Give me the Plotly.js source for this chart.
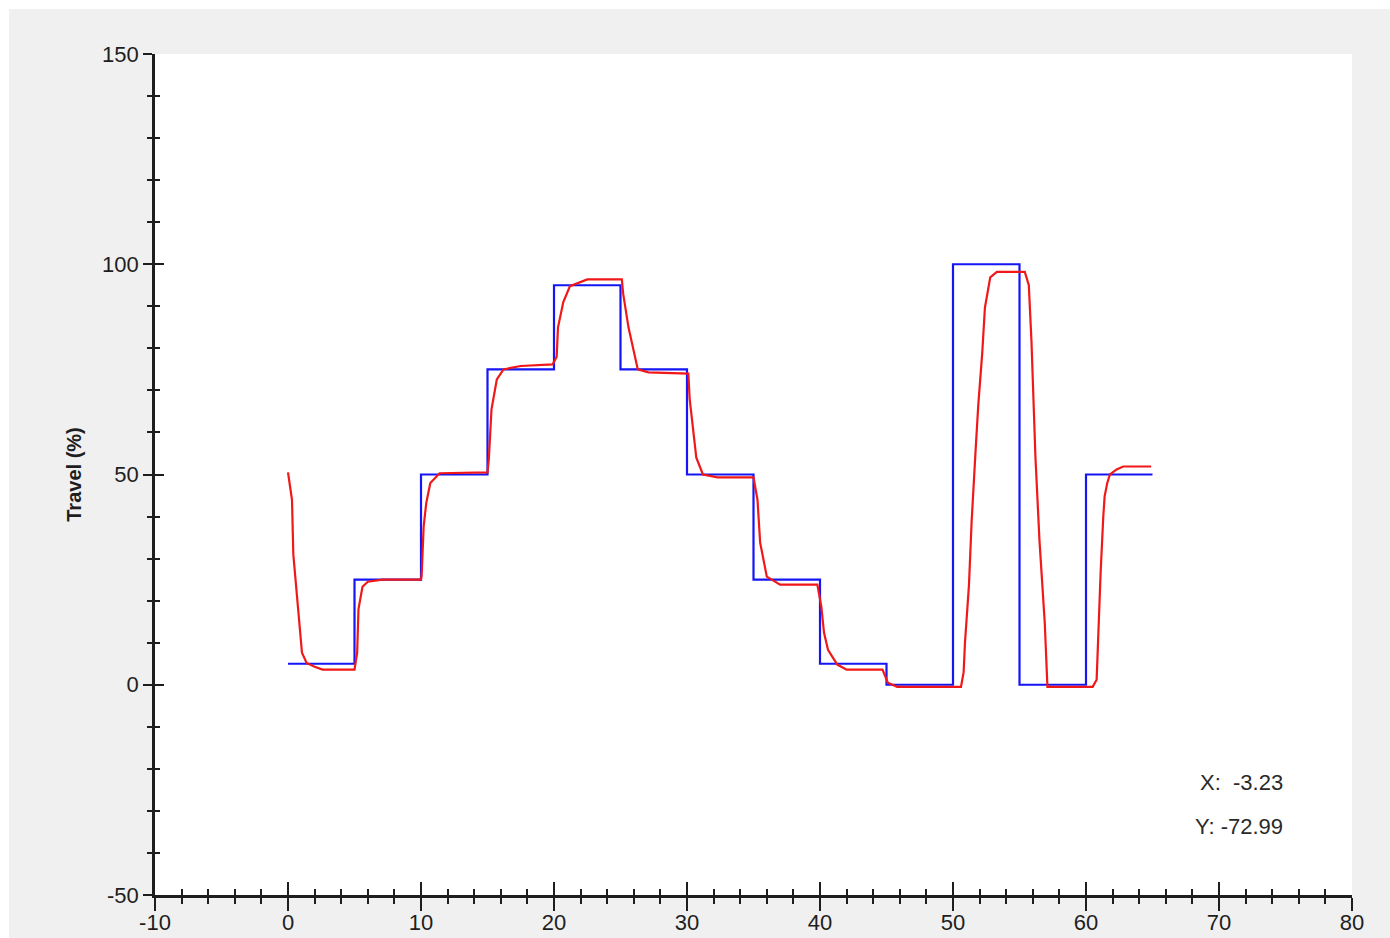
<!DOCTYPE html>
<html>
<head>
<meta charset="utf-8">
<script src="https://cdn.plot.ly/plotly-3.0.1.min.js"></script>
<style>
  html, body { margin: 0; padding: 0; background: #ffffff; }
  #chart { position: absolute; left: 9px; top: 9px; width: 1381px; height: 929px; }
</style>
</head>
<body>
<div id="chart"></div>
<script>
// Setpoint (blue step signal): value held from each time until the next one
const setpointTime = [0, 5, 10, 15, 20, 25, 30, 35, 40, 45, 50, 55, 60, 65];
const setpointTravel = [5, 25, 50, 75, 95, 75, 50, 25, 5, 0, 100, 0, 50, 50];

// Measured travel (red response)
const responseTime = [0, 0.3, 0.4, 0.7, 1.05, 1.4, 2.0, 2.6, 5.0, 5.2, 5.3, 5.6, 6.0, 7.1, 10.0,
  10.05, 10.2, 10.4, 10.7, 11.4, 15.0, 15.1, 15.3, 15.7, 16.2, 17.5, 19.9,
  20.2, 20.3, 20.7, 21.2, 22.5, 25.1, 25.2, 25.6, 26.3, 27.1, 30.1,
  30.2, 30.7, 31.2, 32.3, 35.0, 35.3, 35.5, 36.0, 37.0, 39.8,
  40.1, 40.3, 40.6, 41.3, 42.0, 44.7, 45.1, 45.8, 50.6,
  50.8, 50.9, 51.2, 51.4, 51.7, 51.9, 52.2, 52.4, 52.8, 53.3, 55.4,
  55.7, 55.9, 56.2, 56.5, 56.9, 57.1, 60.5,
  60.8, 60.95, 61.1, 61.3, 61.4, 61.6, 61.8, 62.3, 62.8, 64.9];
const responseTravel = [50.5, 44, 31, 19.5, 7.6, 5.2, 4.3, 3.6, 3.6, 7.6, 18, 23.3, 24.5, 25, 25,
  26, 37.7, 43.3, 48, 50.3, 50.5, 53.6, 65.5, 72.6, 75, 75.8, 76.2,
  78, 85, 91, 94.8, 96.4, 96.4, 93, 85, 75, 74.3, 74,
  68, 54, 50, 49.3, 49.3, 44, 33.8, 25.7, 23.8, 23.8,
  18.6, 12.4, 8.3, 4.8, 3.6, 3.6, 0.5, -0.5, -0.5,
  3, 10, 23.7, 38.8, 55.8, 66.5, 79, 89.7, 96.9, 98.2, 98.2,
  95, 81.7, 54, 34.4, 14.7, -0.5, -0.5,
  1.2, 14.8, 26.7, 40, 44.8, 48, 50, 51.2, 51.9, 51.9];

const xTickValues = [-10, 0, 10, 20, 30, 40, 50, 60, 70, 80];
const yTickValues = [-50, 0, 50, 100, 150];
const yAxisLabel = "Travel (%)";
const readoutLines = ["X:  -3.23", "Y: -72.99"];

const xRange = [-10, 80];
const yRange = [-50, 150];
const axisColor = "#1e1e1e";
const fontFamily = "Liberation Sans, Arial, sans-serif";
const labelFont = { family: fontFamily, size: 22, color: "#1e1e1e" };

const traces = [
  {
    x: setpointTime, y: setpointTravel, type: "scatter", mode: "lines",
    line: { color: "#1515f5", width: 2.2, shape: "hv" },
    name: "Setpoint", hoverinfo: "x+y"
  },
  {
    x: responseTime, y: responseTravel, type: "scatter", mode: "lines",
    line: { color: "#f01818", width: 2.2 },
    name: "Travel", hoverinfo: "x+y"
  },
  {
    // empty trace so that the overlay axes (inner half of the ticks) are drawn
    x: [], y: [], type: "scatter", mode: "lines", xaxis: "x2", yaxis: "y2",
    showlegend: false, hoverinfo: "skip"
  }
];

const tickStyle = { tickwidth: 2.4, tickcolor: axisColor };

const layout = {
  width: 1381, height: 929,
  paper_bgcolor: "#f0f0f0",
  plot_bgcolor: "#ffffff",
  showlegend: false,
  margin: { l: 146, r: 38, t: 45, b: 43 },
  font: labelFont,
  xaxis: Object.assign({
    range: xRange, tickvals: xTickValues,
    showticklabels: false,
    showgrid: false, zeroline: false,
    showline: true, linecolor: axisColor, linewidth: 2.6,
    ticks: "outside", ticklen: 13,
    minor: Object.assign({ dtick: 2, tick0: 0, ticks: "outside", ticklen: 6, showgrid: false }, tickStyle),
    fixedrange: true
  }, tickStyle),
  xaxis2: Object.assign({
    overlaying: "x", anchor: "y", side: "bottom", range: xRange,
    tickvals: xTickValues, ticktext: xTickValues.map(String),
    showticklabels: true, tickfont: labelFont, ticklabelstandoff: 12,
    showgrid: false, zeroline: false, showline: false,
    ticks: "inside", ticklen: 13,
    minor: Object.assign({ dtick: 2, tick0: 0, ticks: "inside", ticklen: 6, showgrid: false }, tickStyle),
    fixedrange: true
  }, tickStyle),
  yaxis: Object.assign({
    range: yRange, tickvals: yTickValues, ticktext: yTickValues.map(String),
    showgrid: false, zeroline: false,
    showline: true, linecolor: axisColor, linewidth: 2.6,
    ticks: "outside", ticklen: 9,
    minor: Object.assign({ dtick: 10, tick0: 0, ticks: "outside", ticklen: 5, showgrid: false }, tickStyle),
    tickfont: labelFont, ticklabelstandoff: 0,
    title: { text: "<b>" + yAxisLabel + "</b>", font: { family: fontFamily, size: 20, color: "#1e1e1e" }, standoff: 16 },
    automargin: false, fixedrange: true
  }, tickStyle),
  yaxis2: Object.assign({
    overlaying: "y", anchor: "x", side: "left", range: yRange, tickvals: yTickValues,
    showticklabels: false, showgrid: false, zeroline: false, showline: false,
    ticks: "inside", ticklen: 9,
    minor: Object.assign({ dtick: 10, tick0: 0, ticks: "inside", ticklen: 5, showgrid: false }, tickStyle),
    fixedrange: true
  }, tickStyle),
  annotations: [
    { text: readoutLines[0], xref: "paper", yref: "paper", x: 0.944, y: 0.134, xanchor: "right", yanchor: "middle",
      showarrow: false, font: { family: fontFamily, size: 22, color: "#2a2a2a" } },
    { text: readoutLines[1], xref: "paper", yref: "paper", x: 0.944, y: 0.082, xanchor: "right", yanchor: "middle",
      showarrow: false, font: { family: fontFamily, size: 22, color: "#2a2a2a" } }
  ]
};

Plotly.newPlot("chart", traces, layout, { displayModeBar: false });
</script>
</body>
</html>
